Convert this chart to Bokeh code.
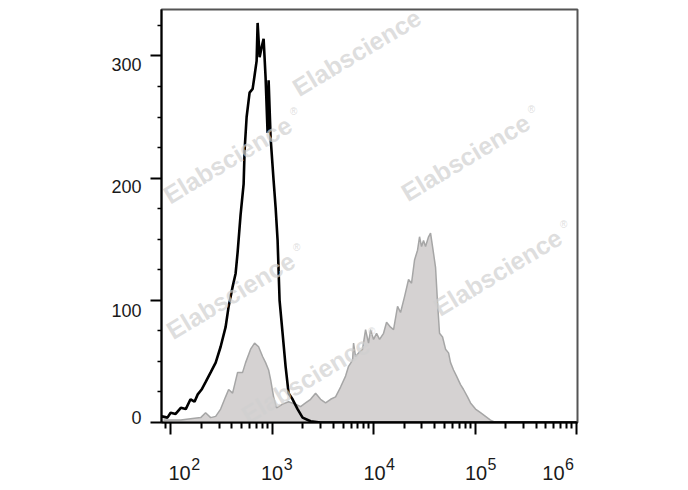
from bokeh.plotting import figure
from bokeh.models import (FixedTicker, ColumnDataSource, LinearAxis, LogAxis,
                          CustomJSTickFormatter)
from bokeh.core.properties import value
from bokeh.embed import file_html
from bokeh.resources import INLINE

# ---- data (fluorescence intensity, cell count) ----
stained_x = [85, 100, 126, 157, 198, 221, 248, 278, 311, 348, 373, 408, 457, 512, 548,
             614, 672, 736, 806, 863, 924, 967, 1035, 1107, 1269, 1454, 1704, 1909, 2138,
             2395, 2683, 3005, 3367, 3771, 4223, 4731, 5298, 5671, 6211, 6353, 6648, 7116,
             7792, 8341, 8928, 9342, 10000, 10705, 11459, 12547, 13432, 14707, 15741,
             17240, 18451, 20205, 22122, 23679, 25344, 27129, 28388, 29714, 31086, 32529,
             34834, 36450, 38141, 40823, 42717, 44699, 47855, 51228, 54831, 57371, 61410,
             65724, 71968, 77041, 84348, 90302, 101137, 113310, 126880, 142120, 159220,
             300000, 1000000]
stained_y = [2, 2, 2, 3, 4, 8, 4, 5, 11, 21, 27, 24, 41, 41, 49,
             60, 65, 62, 54, 49, 43, 35, 21, 12, 15, 17, 15, 13, 16,
             19, 24, 19, 16, 19, 21, 29, 38, 46, 51, 65, 54, 57,
             60, 76, 65, 76, 68, 73, 68, 73, 82, 78, 76,
             95, 90, 103, 117, 114, 133, 141, 152, 144, 149, 144,
             152, 155, 144, 127, 98, 73, 70, 60, 57, 49, 43,
             38, 31, 27, 21, 16, 11, 8, 5, 2, 0,
             0, 0]

isotype_x = [82, 93, 100, 112, 126, 141, 157, 172, 185, 202, 221, 248, 278, 311, 348,
             373, 408, 437, 457, 489, 524, 536, 561, 600, 643, 672, 704, 720, 753, 788,
             825, 863, 903, 924, 967, 1035, 1083, 1133, 1185, 1269, 1358, 1454, 1592,
             1783, 1998, 2395, 3006, 1000000]
isotype_y = [5, 4, 8, 7, 12, 11, 19, 17, 23, 27, 33, 41, 49, 62, 78,
             95, 111, 122, 139, 170, 195, 223, 250, 270, 273, 284, 296, 327, 299, 307,
             314, 282, 237, 280, 233, 198, 176, 149, 100, 73, 46, 24, 19,
             11, 4, 1, 0, 0]

x_ticks = [100, 1000, 10000, 100000, 1000000]
x_tick_base = ["10", "10", "10", "10", "10"]
x_tick_exp = ["2", "3", "4", "5", "6"]
x_minor = [m * d for d in [10, 100, 1000, 10000, 100000] for m in range(2, 10)]
y_ticks = [0, 100, 200, 300]
y_tick_labels = ["0", "100", "200", "300"]
y_minor = [25, 50, 75, 125, 150, 175, 225, 250, 275, 325]

watermark_text = "Elabscience"
wm_x = [6810, 364, 80500, 167000, 390, 2140]
wm_y = [303, 215, 217, 123, 104, 35]

FONT = "Liberation Sans"
PX_Y = 1.225           # pixels per count on the y scale
PX_DEC = 101.5         # pixels per decade on the x scale
X_LO, X_HI = 10 ** 1.91, 10 ** 6.01

p = figure(width=680, height=482, x_axis_type="log",
           x_range=(X_LO, X_HI), y_range=(0, 338),
           output_backend="svg", toolbar_location=None,
           min_border_left=161, min_border_right=103,
           min_border_top=9, min_border_bottom=59)

p.grid.visible = False
p.background_fill_color = "white"
p.border_fill_color = "white"
p.outline_line_color = "#555555"
p.outline_line_width = 2

src_s = ColumnDataSource(dict(x=stained_x, y=stained_y))
src_i = ColumnDataSource(dict(x=isotype_x, y=isotype_y))

p.varea(x="x", y1=0, y2="y", source=src_s, fill_color="#d5d2d2")
p.line(x="x", y="y", source=src_s, line_color="#a6a6a6", line_width=1.5)
p.line(x="x", y="y", source=src_i, line_color="black", line_width=2.6)

# watermarks
p.text(x=wm_x, y=wm_y, text=[watermark_text] * len(wm_x), angle=0.54,
       text_font=value(FONT), text_font_style="bold", text_font_size="25px",
       text_color="#d0d0d0", text_alpha=0.7, text_align="center",
       text_baseline="middle")
p.text(x=wm_x, y=wm_y, text=["\u00ae"] * len(wm_x), x_offset=66, y_offset=-48,
       text_font=value(FONT), text_font_size="10px",
       text_color="#d0d0d0", text_alpha=0.7, text_align="center",
       text_baseline="middle")

# ---- x axis: ticks on the main axis, "10" and exponent on two label-only axes ----
xa = p.xaxis[0]
xa.ticker = FixedTicker(ticks=x_ticks, minor_ticks=x_minor)
xa.major_label_overrides = {t: "" for t in x_ticks}
xa.major_label_standoff = 0
xa.major_label_text_font_size = "1px"
xa.axis_line_color = "black"
xa.axis_line_width = 2
xa.major_tick_line_width = 2
xa.minor_tick_line_width = 2
xa.major_tick_in = 0
xa.major_tick_out = 12
xa.minor_tick_in = 0
xa.minor_tick_out = 6

x_dx = [9, 0, 1, 1, -23]   # horizontal nudges of the "10" labels (px)


def label_axis(positions, labels, size, standoff, cls):
    return cls(ticker=FixedTicker(ticks=positions, minor_ticks=[]),
               formatter=CustomJSTickFormatter(args=dict(labels=labels),
                                               code="return labels[index];"),
               axis_line_color=None, major_tick_line_color=None,
               minor_tick_line_color=None, major_tick_in=0, major_tick_out=0,
               minor_tick_in=0, minor_tick_out=0,
               major_label_standoff=standoff,
               major_label_text_font=FONT, major_label_text_font_size=size,
               major_label_text_color="#1a1a1a")


exp_pos = [t * 10 ** ((d + 16) / PX_DEC) for t, d in zip(x_ticks, x_dx)]
base_pos = [t * 10 ** (d / PX_DEC) for t, d in zip(x_ticks, x_dx)]
p.add_layout(label_axis(exp_pos, x_tick_exp, "16px", 23, LogAxis), "below")
p.add_layout(label_axis(base_pos, x_tick_base, "20px", -7, LogAxis), "below")

# ---- y axis ----
ya = p.yaxis[0]
ya.ticker = FixedTicker(ticks=y_ticks, minor_ticks=y_minor)
ya.major_label_overrides = {t: "" for t in y_ticks}
ya.major_label_standoff = 0
ya.major_label_text_font_size = "1px"
ya.axis_line_color = "black"
ya.axis_line_width = 2
ya.major_tick_line_width = 2
ya.minor_tick_line_width = 1.5
ya.major_tick_in = 0
ya.major_tick_out = 11
ya.minor_tick_in = 0
ya.minor_tick_out = 4

y_dpx = [-5.5, 10, 8, 8.5]   # vertical nudges of the y labels (px, down)
y_pos = [t - d / PX_Y for t, d in zip(y_ticks, y_dpx)]
p.add_layout(label_axis(y_pos, y_tick_labels, "18px", 9, LinearAxis), "left")

open("out.html", "w").write(file_html(p, INLINE))
